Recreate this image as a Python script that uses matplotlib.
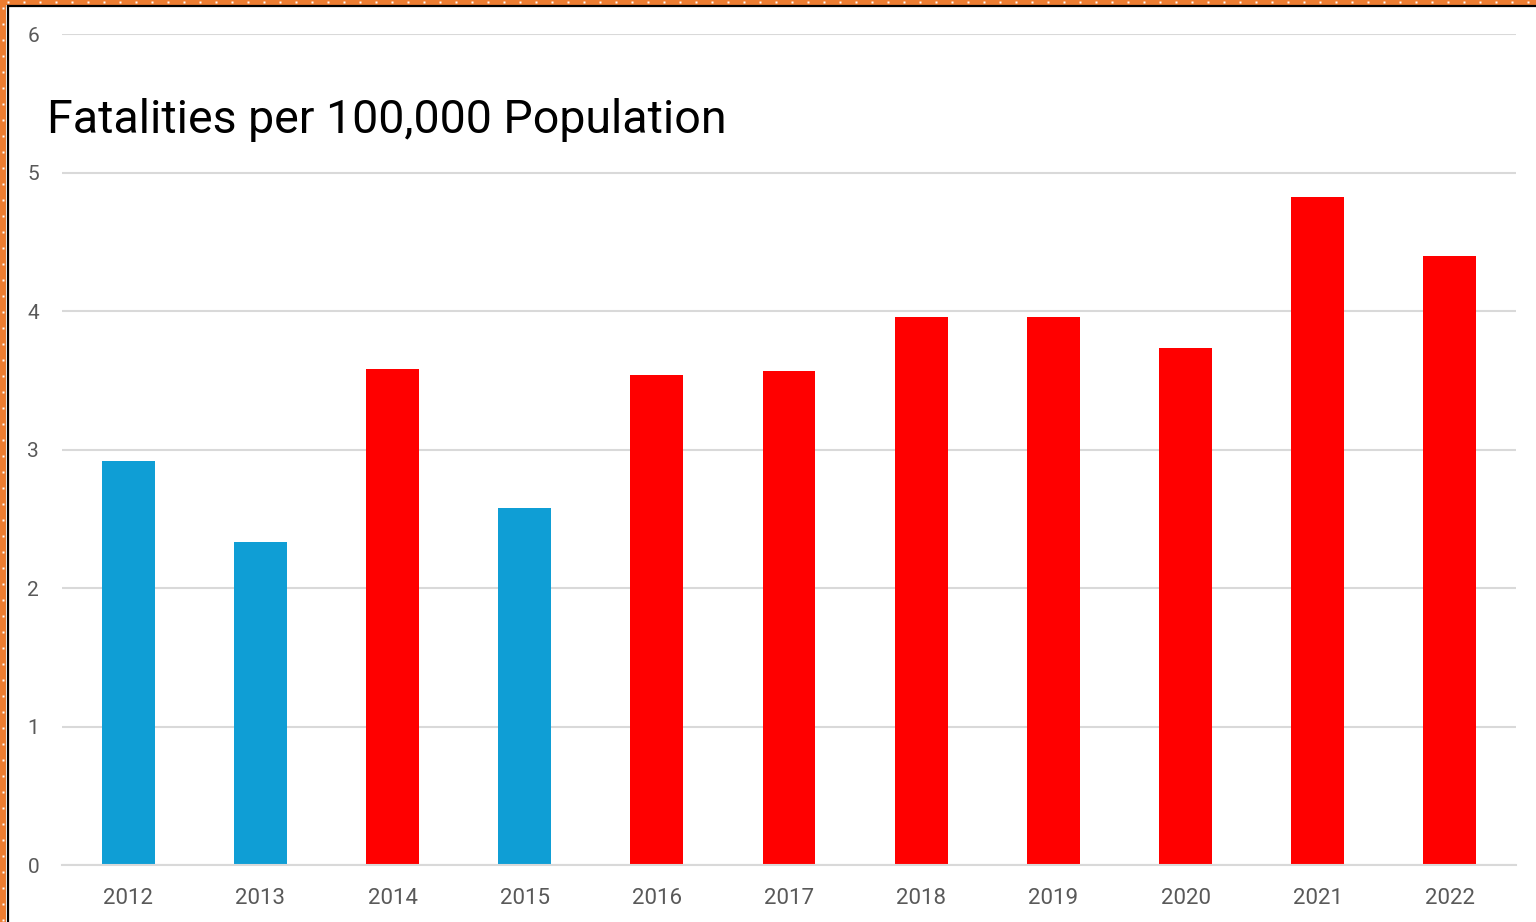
import matplotlib.pyplot as plt
import numpy as np
from matplotlib.lines import Line2D
from matplotlib.patches import Rectangle

years = ['2012', '2013', '2014', '2015', '2016', '2017',
         '2018', '2019', '2020', '2021', '2022']
fatality_rate = [2.92, 2.33, 3.58, 2.58, 3.54, 3.57,
                 3.96, 3.96, 3.73, 4.82, 4.40]
party = ['D', 'D', 'R', 'D', 'R', 'R', 'R', 'R', 'R', 'R', 'R']

colors = {'D': '#0F9ED5', 'R': '#FF0000'}

W, H = 1536, 922
fig = plt.figure(figsize=(W / 100, H / 100), dpi=100)
ax = fig.add_axes([62 / W, 1 - 865 / H, (1516 - 62) / W, (865 - 34) / H])

x = np.arange(len(years))
ax.bar(x, fatality_rate, width=0.40, color=[colors[p] for p in party],
       zorder=2)

ax.set_xlim(-0.5, len(years) - 0.5)
ax.set_ylim(0, 6)
ax.set_yticks(range(0, 7))
ax.set_xticks(x)
ax.set_xticklabels(years)
ax.yaxis.grid(True, color='#D9D9D9', linewidth=1.5, zorder=0)
ax.set_axisbelow(True)
for side in ['top', 'right', 'left']:
    ax.spines[side].set_visible(False)
ax.spines['bottom'].set_color('#D9D9D9')
ax.spines['bottom'].set_linewidth(1.5)
ax.tick_params(axis='both', length=0, labelsize=15, labelcolor='#595959')
ax.tick_params(axis='x', labelsize=16, pad=16.5)
ax.tick_params(axis='y', pad=16.5)
for lbl in ax.get_xticklabels() + ax.get_yticklabels():
    lbl.set_family('Roboto')

fig.text(47 / W, 1 - 133 / H, 'Fatalities per 100,000 Population',
         fontsize=33.5, family='Roboto', color='#000000', va='baseline')

# orange dotted frame along top and left edges, with a thin black inner line
orange = '#ED7D31'
fig.add_artist(Rectangle((0, 1 - 5 / H), 1, 5 / H, transform=fig.transFigure,
                         facecolor=orange, edgecolor='none', zorder=5))
fig.add_artist(Rectangle((0, 0), 6 / W, 1, transform=fig.transFigure,
                         facecolor=orange, edgecolor='none', zorder=5))
fig.add_artist(Line2D([8 / W, 1], [1 - 6 / H, 1 - 6 / H], transform=fig.transFigure,
                      color='black', linewidth=1.6, zorder=6))
fig.add_artist(Line2D([8 / W, 8 / W], [0, 1 - 6 / H], transform=fig.transFigure,
                      color='black', linewidth=1.6, zorder=6))
dot_x = np.arange(8, W, 16)
fig.add_artist(Line2D(dot_x / W, np.full(dot_x.size, 1 - 2.5 / H),
                      transform=fig.transFigure, linestyle='none', marker='s',
                      markersize=1.8, markerfacecolor='white',
                      markeredgecolor='none', zorder=7))
dot_y = np.arange(8, H, 16)
fig.add_artist(Line2D(np.full(dot_y.size, 3 / W), 1 - dot_y / H,
                      transform=fig.transFigure, linestyle='none', marker='s',
                      markersize=1.8, markerfacecolor='white',
                      markeredgecolor='none', zorder=7))

fig.savefig('out.png', dpi=100)
